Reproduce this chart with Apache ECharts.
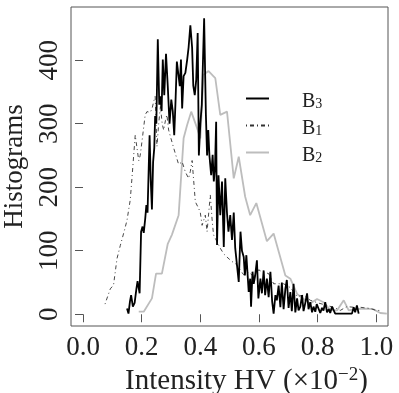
<!DOCTYPE html>
<html>
<head>
<meta charset="utf-8">
<script src="https://cdn.jsdelivr.net/npm/echarts@6/dist/echarts.min.js"></script>
<style>
  html, body { margin: 0; padding: 0; background: #fff; }
  #chart { width: 399px; height: 393px; }
</style>
</head>
<body>
<div id="chart"></div>
<script>
// 刻度
const xTicks = [0.0, 0.2, 0.4, 0.6, 0.8, 1.0]
const yTicks = [0, 100, 200, 300, 400]

// B3 (black solid)
const b3X = [0.150, 0.155, 0.160, 0.164, 0.170, 0.176, 0.182, 0.186, 0.193, 0.198,
  0.203, 0.207, 0.212, 0.216, 0.220, 0.224, 0.227, 0.231, 0.235, 0.239,
  0.243, 0.246, 0.250, 0.255, 0.260, 0.264, 0.268, 0.272, 0.277, 0.283,
  0.289, 0.295, 0.301, 0.306, 0.311, 0.315, 0.320, 0.325, 0.330, 0.334,
  0.338, 0.343, 0.349, 0.355, 0.360, 0.366, 0.372, 0.376, 0.381, 0.386,
  0.391, 0.395, 0.400, 0.405, 0.413, 0.419, 0.423, 0.427, 0.431, 0.437,
  0.442, 0.446, 0.450, 0.454, 0.457, 0.462, 0.468, 0.474, 0.480, 0.485,
  0.491, 0.496, 0.502, 0.508, 0.514, 0.519, 0.525, 0.531, 0.537, 0.542,
  0.548, 0.552, 0.557, 0.565, 0.570, 0.573, 0.578, 0.582, 0.587, 0.593,
  0.598, 0.605, 0.610, 0.616, 0.621, 0.627, 0.633, 0.639, 0.645, 0.650,
  0.656, 0.661, 0.667, 0.673, 0.678, 0.684, 0.690, 0.695, 0.701, 0.707,
  0.712, 0.718, 0.724, 0.730, 0.735, 0.741, 0.747, 0.752, 0.758, 0.764,
  0.769, 0.775, 0.781, 0.786, 0.792, 0.797, 0.803, 0.809, 0.815, 0.820,
  0.826, 0.832, 0.838, 0.843, 0.849, 0.855, 0.860, 0.880, 0.900, 0.917,
  0.923, 0.928, 0.934, 0.940]
const b3Y = [9, 1, 20, 30, 12, 18, 40, 52, 33, 130,
  138, 128, 150, 172, 160, 230, 282, 210, 165, 240,
  262, 312, 300, 433, 330, 343, 320, 401, 345, 410,
  359, 300, 338, 320, 282, 330, 398, 401, 359, 401,
  324, 375, 380, 400, 420, 455, 420, 360, 345, 369,
  443, 250, 300, 330, 466, 314, 250, 290, 250, 219,
  251, 209, 230, 303, 109, 219, 156, 209, 106, 214,
  159, 130, 156, 117, 160, 104, 106, 51, 130, 100,
  90, 61, 93, 35, 56, 12, 67, 48, 61, 85,
  25, 56, 33, 69, 30, 56, 27, 67, 20, 1,
  30, 22, 45, 11, 50, 8, 40, 54, 10, 35,
  5, 48, 3, 25, 6, 12, 30, 5, 18, 33,
  8, 19, 3, 12, 4, 16, 19, 2, 10, 6,
  19, 3, 8, 2, 12, 14, 1, 1, 1, 1,
  11, 3, 14, 1]

// B1 (dot-dash)
const b1X = [0.075, 0.093, 0.104, 0.116, 0.127, 0.140, 0.150, 0.161, 0.167, 0.178,
  0.184, 0.190, 0.195, 0.201, 0.212, 0.218, 0.229, 0.235, 0.241, 0.246,
  0.252, 0.258, 0.264, 0.270, 0.275, 0.281, 0.286, 0.292, 0.298, 0.309,
  0.320, 0.326, 0.338, 0.349, 0.360, 0.366, 0.372, 0.383, 0.394, 0.400,
  0.406, 0.417, 0.423, 0.434, 0.440, 0.445, 0.456, 0.468, 0.480, 0.491,
  0.508, 0.520, 0.548, 0.566, 0.582, 0.599, 0.610, 0.633, 0.650, 0.684,
  0.707, 0.730, 0.752, 0.775, 0.800, 0.832, 0.860, 0.877, 0.900, 0.923,
  0.945, 0.980, 1.000, 1.014]
const b1Y = [16, 40, 46, 88, 108, 130, 148, 180, 215, 282,
  285, 242, 250, 272, 314, 319, 318, 323, 335, 343,
  264, 300, 327, 300, 290, 305, 314, 290, 280, 262,
  245, 236, 240, 224, 214, 225, 242, 177, 167, 160,
  140, 156, 130, 188, 150, 125, 115, 104, 95, 90,
  83, 80, 62, 66, 59, 70, 67, 64, 48, 48,
  42, 28, 30, 22, 18, 14, 10, 6, 12, 11,
  11, 9, 6, 6]

// B2 (grey)
const b2X = [0.190, 0.207, 0.235, 0.249, 0.269, 0.289, 0.303, 0.326, 0.343, 0.355,
  0.369, 0.389, 0.400, 0.411, 0.428, 0.451, 0.468, 0.491, 0.514, 0.531,
  0.553, 0.570, 0.591, 0.627, 0.650, 0.690, 0.707, 0.730, 0.758, 0.775,
  0.798, 0.820, 0.843, 0.866, 0.889, 0.906, 0.930, 0.968, 0.990, 1.014,
  1.036]
const b2Y = [4, 4, 25, 64, 64, 111, 125, 156, 277, 298,
  319, 293, 277, 377, 383, 372, 314, 319, 214, 248,
  185, 156, 175, 115, 127, 61, 56, 32, 22, 17,
  24, 19, 7, 6, 22, 6, 8, 9, 8, 2,
  1]

const zip = (xs, ys) => xs.map((x, i) => [x, ys[i]])

const FONT = 'Liberation Serif'

const chart = echarts.init(document.getElementById('chart'))

const option = {
  animation: false,
  backgroundColor: '#fff',
  grid: {
    left: 71, top: 7, right: 11, bottom: 67,
    outerBoundsMode: 'none',
    containLabel: false,
    show: true, borderColor: '#555', borderWidth: 1
  },
  legend: {
    orient: 'vertical',
    left: 245,
    top: 85,
    padding: 0,
    itemWidth: 23,
    itemHeight: 12,
    itemGap: 0,
    data: ['B3', 'B1', 'B2'],
    itemStyle: { opacity: 0 },
    formatter: (name) => '{b|B}{s|' + name.slice(1) + '}',
    textStyle: {
      fontFamily: FONT,
      color: '#222',
      rich: {
        b: { fontFamily: FONT, fontSize: 20, lineHeight: 19, padding: [7, 0, 0, 28], color: '#222' },
        s: { fontFamily: FONT, fontSize: 14, lineHeight: 14, padding: [12, 0, 0, 0], color: '#222' }
      }
    }
  },
  xAxis: {
    type: 'value',
    min: -0.041,
    max: 1.040,
    name: 'Intensity HV (×10{sup|−2})',
    nameLocation: 'middle',
    nameGap: 31,
    nameTextStyle: {
      fontFamily: FONT, fontSize: 29, color: '#222', lineHeight: 30,
      padding: [0, 0, 0, 34],
      rich: {
        sup: { fontFamily: FONT, fontSize: 19, verticalAlign: 'top', lineHeight: 19, color: '#222' }
      }
    },
    splitLine: { show: false },
    axisLine: { show: false },
    axisTick: { show: true, length: 8, customValues: xTicks, lineStyle: { color: '#555' } },
    axisLabel: {
      customValues: xTicks,
      margin: 8,
      fontFamily: FONT, fontSize: 27, color: '#222',
      formatter: (v) => v.toFixed(1)
    }
  },
  yAxis: {
    type: 'value',
    min: -18.5,
    max: 483.8,
    name: 'Histograms',
    nameLocation: 'middle',
    nameGap: 40,
    nameTextStyle: { fontFamily: FONT, fontSize: 27, color: '#222' },
    splitLine: { show: false },
    axisLine: { show: false },
    axisTick: { show: true, length: 8, customValues: yTicks, lineStyle: { color: '#555' } },
    axisLabel: {
      customValues: yTicks,
      rotate: 90,
      margin: 8,
      fontFamily: FONT, fontSize: 27, color: '#222'
    }
  },
  series: [
    {
      name: 'B2', type: 'line', symbol: 'none',
      data: zip(b2X, b2Y),
      lineStyle: { color: '#bdbdbd', width: 1.8 },
      itemStyle: { color: '#bdbdbd' }
    },
    {
      name: 'B1', type: 'line', symbol: 'none',
      data: zip(b1X, b1Y),
      lineStyle: { color: '#333', width: 0.9, type: [1, 3, 4, 3] },
      itemStyle: { color: '#333' }
    },
    {
      name: 'B3', type: 'line', symbol: 'none',
      data: zip(b3X, b3Y),
      lineStyle: { color: '#000', width: 1.8 },
      itemStyle: { color: '#000' }
    }
  ]
}

chart.setOption(option)
</script>
</body>
</html>
